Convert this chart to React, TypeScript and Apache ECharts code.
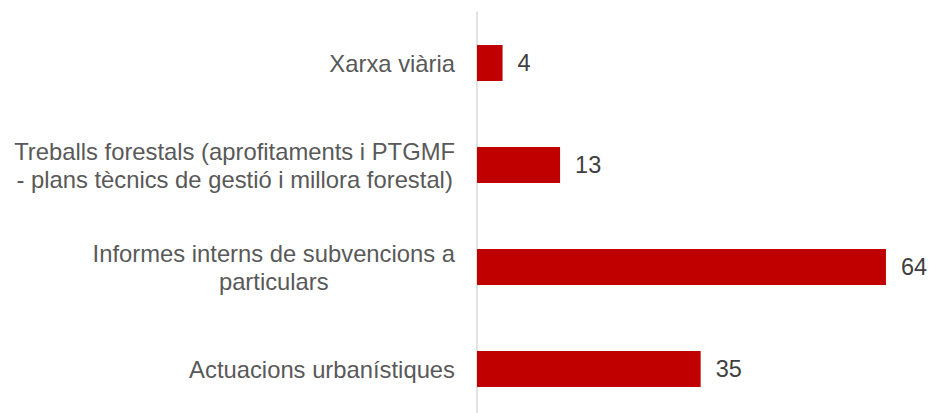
import React, { useEffect, useRef } from "react";
import * as echarts from "echarts";

const categories = [
  "Xarxa viària",
  "Treballs forestals (aprofitaments i PTGMF\n- plans tècnics de gestió i millora forestal)",
  "Informes interns de subvencions a\nparticulars",
  "Actuacions urbanístiques",
];
const values = [4, 13, 64, 35];

export default function App() {
  const ref = useRef<HTMLDivElement>(null);
  useEffect(() => {
    if (!ref.current) return;
    const chart = echarts.init(ref.current, null, { renderer: "svg" });
    chart.setOption({
      animation: false,
      backgroundColor: "#ffffff",
      grid: {
        left: 477,
        top: 12,
        width: 447.3,
        height: 408,
        containLabel: false,
        outerBoundsMode: "none",
      },
      xAxis: {
        type: "value",
        min: 0,
        max: 70,
        show: false,
        splitLine: { show: false },
      },
      yAxis: {
        type: "category",
        inverse: true,
        data: categories,
        axisLine: { show: true, lineStyle: { color: "#d9d9d9", width: 1.5 } },
        axisTick: { show: false },
        axisLabel: {
          margin: 22,
          color: "#595959",
          fontFamily: "Liberation Sans, Arial, sans-serif",
          fontSize: 23.8,
          lineHeight: 28,
          formatter: (v: string) =>
            v
              .split("\n")
              .map((l) => `{c|${l}}`)
              .join("\n"),
          rich: {
            c: {
              align: "center",
              color: "#595959",
              fontFamily: "Liberation Sans, Arial, sans-serif",
              fontSize: 23.8,
              lineHeight: 28,
            },
          },
        },
      },
      series: [
        {
          type: "bar",
          data: values,
          barWidth: 36,
          itemStyle: { color: "#C00000" },
          label: {
            show: true,
            position: "right",
            distance: 15,
            color: "#404040",
            fontFamily: "Liberation Sans, Arial, sans-serif",
            fontSize: 23.5,
          },
        },
      ],
    });
    return () => chart.dispose();
  }, []);
  return (
    <div
      ref={ref}
      style={{ position: "absolute", left: 0, top: 0, width: 930, height: 413 }}
    />
  );
}
